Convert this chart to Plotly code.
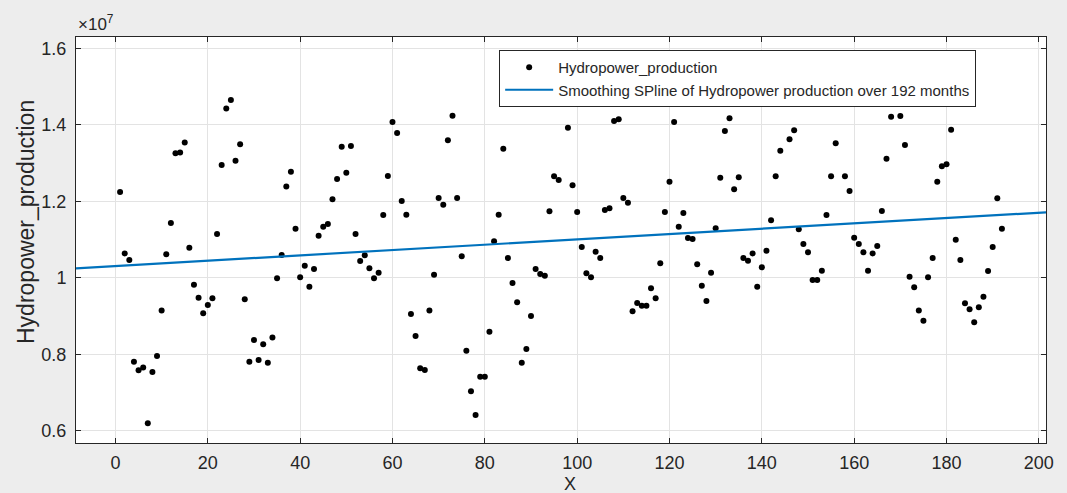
import plotly.graph_objects as go

# Month index (x) and hydropower production (units of 1e7)
months = [1, 2, 3, 4, 5, 6, 7, 8, 9, 10, 11, 12, 13, 14, 15, 16, 17, 18, 19, 20,
          21, 22, 23, 24, 25, 26, 27, 28, 29, 30, 31, 32, 33, 34, 35, 36, 37, 38, 39, 40,
          41, 42, 43, 44, 45, 46, 47, 48, 49, 50, 51, 52, 53, 54, 55, 56, 57, 58, 59, 60,
          61, 62, 63, 64, 65, 66, 67, 68, 69, 70, 71, 72, 73, 74, 75, 76, 77, 78, 79, 80,
          81, 82, 83, 84, 85, 86, 87, 88, 89, 90, 91, 92, 93, 94, 95, 96, 98, 99, 100,
          101, 102, 103, 104, 105, 106, 107, 108, 109, 110, 111, 112, 113, 114, 115, 116,
          117, 118, 119, 120, 121, 122, 123, 124, 125, 126, 127, 128, 129, 130, 131, 132,
          133, 134, 135, 136, 137, 138, 139, 140, 141, 142, 143, 144, 146, 147, 148, 149,
          150, 151, 152, 153, 154, 155, 156, 158, 159, 160, 161, 162, 163, 164, 165, 166,
          167, 168, 170, 171, 172, 173, 174, 175, 176, 177, 178, 179, 180, 181, 182, 183,
          184, 185, 186, 187, 188, 189, 190, 191, 192]

production = [1.2245, 1.064, 1.047, 0.781, 0.759, 0.766, 0.620, 0.754, 0.796, 0.915,
              1.062, 1.1435, 1.3256, 1.328, 1.354, 1.079, 0.982, 0.948, 0.908, 0.929,
              0.947, 1.115, 1.295, 1.443, 1.465, 1.306, 1.349, 0.944, 0.781, 0.838,
              0.7855, 0.8265, 0.7785, 0.844, 0.999, 1.060, 1.239, 1.2776, 1.1286, 1.0016,
              1.032, 0.977, 1.0233, 1.1104, 1.1339, 1.141, 1.2054, 1.2585, 1.3429, 1.275,
              1.3447, 1.1148, 1.0442, 1.059, 1.025, 0.999, 1.0137, 1.1644, 1.2663, 1.4074,
              1.3787, 1.201, 1.1652, 0.9057, 0.848, 0.7638, 0.7594, 0.915, 1.0084, 1.2088,
              1.1913, 1.3596, 1.4239, 1.2088, 1.0565, 0.8098, 0.7037, 0.6418, 0.7419, 0.7419,
              0.8595, 1.0957, 1.1652, 1.3377, 1.052, 0.9867, 0.9363, 0.7785, 0.8143, 0.9005,
              1.0233, 1.0102, 1.0059, 1.1741, 1.2655, 1.2559, 1.3926, 1.242, 1.1723,
              1.0808, 1.012, 1.0016, 1.0685, 1.052, 1.1775, 1.1819, 1.410, 1.4144, 1.2088,
              1.1966, 0.9127, 0.9345, 0.9274, 0.9274, 0.9729, 0.9467, 1.0382, 1.1723,
              1.2514, 1.4074, 1.1339, 1.1696, 1.1043, 1.1017, 1.0356, 0.9797, 0.9397,
              1.0137, 1.1297, 1.2619, 1.3839, 1.4171, 1.2316, 1.2629, 1.052, 1.045, 1.064,
              0.977, 1.0277, 1.0711, 1.1506, 1.2655, 1.3324, 1.3622, 1.3857, 1.127, 1.0886,
              1.0669, 0.9946, 0.9946, 1.0189, 1.1644, 1.2655, 1.3518, 1.2655, 1.2271,
              1.1051, 1.0886, 1.0669, 1.0189, 1.064, 1.0834, 1.1749, 1.3115, 1.4213,
              1.4231, 1.3473, 1.0032, 0.9755, 0.915, 0.8882, 1.0016, 1.052, 1.2514, 1.2917,
              1.2969, 1.3873, 1.0999, 1.047, 0.9337, 0.918, 0.884, 0.9232, 0.951, 1.0181,
              1.0808, 1.208, 1.1286]

# Smoothing spline (appears straight across the plotted range)
spline_x = [-8.55, 201.55]
spline_y = [1.0251, 1.1715]

x_ticks = [0, 20, 40, 60, 80, 100, 120, 140, 160, 180, 200]
y_ticks = [0.6, 0.8, 1.0, 1.2, 1.4, 1.6]
y_tick_labels = ["0.6", "0.8", "1", "1.2", "1.4", "1.6"]

FONT = "Liberation Sans, Arial, Helvetica, sans-serif"
TXT = "#262626"

fig = go.Figure()
fig.add_trace(go.Scatter(
    x=months, y=production, mode="markers", name="Hydropower_production",
    marker=dict(color="black", size=6),
))
fig.add_trace(go.Scatter(
    x=spline_x, y=spline_y, mode="lines",
    name="Smoothing SPline of Hydropower production over 192 months",
    line=dict(color="#0072BD", width=2.2),
))

axis_common = dict(
    showline=True, linecolor=TXT, linewidth=1, mirror="allticks",
    ticks="inside", ticklen=5, tickcolor=TXT, tickwidth=1,
    showgrid=True, gridcolor="#e3e3e3", gridwidth=1, zeroline=False,
    tickfont=dict(family=FONT, size=18, color=TXT),
    automargin=False,
)

fig.update_layout(
    width=1067, height=493,
    margin=dict(l=76, r=21, t=37, b=50),
    paper_bgcolor="#ededed", plot_bgcolor="white",
    font=dict(family=FONT, color=TXT),
    xaxis=dict(range=[-8.55, 201.55], tickvals=x_ticks, ticklabelstandoff=3, **axis_common),
    yaxis=dict(range=[0.5686, 1.6296], tickvals=y_ticks, ticktext=y_tick_labels,
               ticklabelstandoff=5, **axis_common),
    legend=dict(
        x=0.928, y=0.968, xanchor="right", yanchor="top",
        bgcolor="white", bordercolor=TXT, borderwidth=1,
        font=dict(family=FONT, size=15, color=TXT),
        tracegroupgap=0, itemwidth=48,
    ),
    showlegend=True,
)

# axis titles
fig.add_annotation(
    xref="paper", yref="paper", x=(570 - 76) / 970, y=(443 - 472) / 406,
    xanchor="center", yanchor="top", text="X", showarrow=False,
    font=dict(family=FONT, size=18, color=TXT),
)
fig.add_annotation(
    xref="paper", yref="paper", x=(26 - 76) / 970, y=(443 - 222) / 406,
    xanchor="center", yanchor="middle", text="Hydropower_production", textangle=-90,
    showarrow=False, font=dict(family=FONT, size=23, color=TXT),
)
fig.add_annotation(
    xref="paper", yref="paper", x=0, y=1, xanchor="left", yanchor="bottom",
    yshift=1, text="×10<sup>7</sup>", showarrow=False,
    font=dict(family=FONT, size=17, color=TXT),
)

fig.write_html("out.html")
